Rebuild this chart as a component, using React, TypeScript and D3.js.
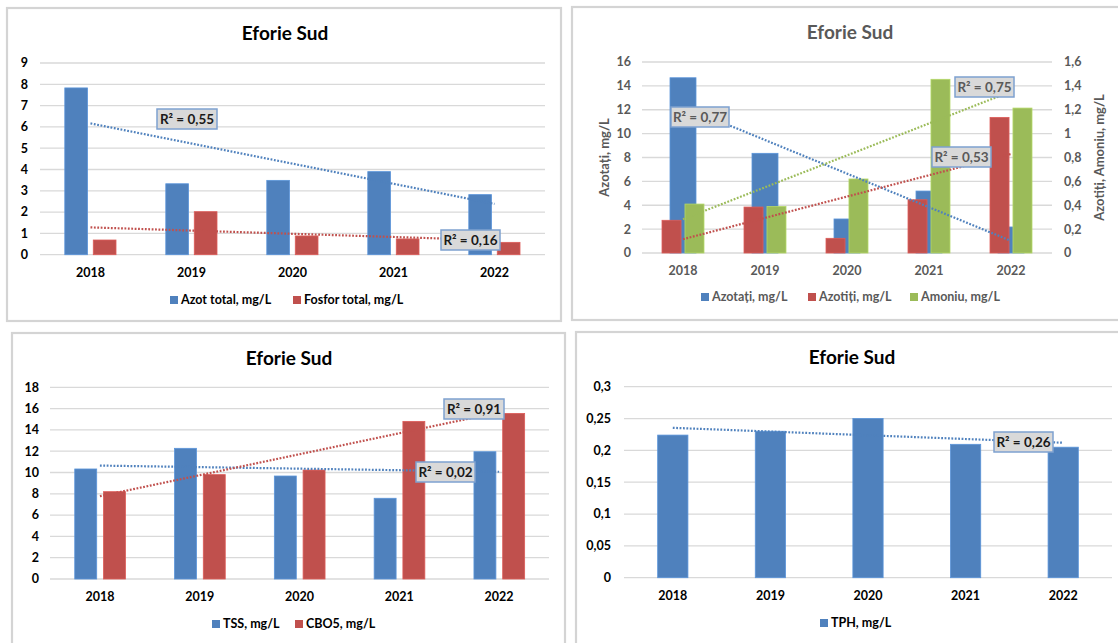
import React from "react";
import * as d3 from "d3";

// data (Eforie Sud, 2018-2022)
const years = ["2018", "2019", "2020", "2021", "2022"];
const azotTotal = [7.83, 3.33, 3.49, 3.9, 2.82];
const fosforTotal = [0.69, 2.02, 0.88, 0.74, 0.58];
const azotati = [14.68, 8.35, 2.85, 5.19, 2.18];
const azotiti = [0.274, 0.385, 0.123, 0.446, 1.136];
const amoniu = [0.41, 0.39, 0.62, 1.455, 1.214];
const tss = [10.33, 12.27, 9.67, 7.58, 11.95];
const cbo5 = [8.2, 9.8, 10.23, 14.8, 15.55];
const tph = [0.224, 0.23, 0.25, 0.2095, 0.205];

const ticks9 = [0, 1, 2, 3, 4, 5, 6, 7, 8, 9];
const ticks16 = [0, 2, 4, 6, 8, 10, 12, 14, 16];
const ticks16r = [0, 0.2, 0.4, 0.6, 0.8, 1, 1.2, 1.4, 1.6];
const ticks18 = [0, 2, 4, 6, 8, 10, 12, 14, 16, 18];
const ticks03 = [0, 0.05, 0.1, 0.15, 0.2, 0.25, 0.3];

const FONT = "Lato, 'Open Sans', sans-serif";
const BLUE = "#4f81bd";
const RED = "#c0504d";
const GREEN = "#9bbb59";
const GRID = "#d9d9d9";

const fmt = (v: number) => String(+v.toFixed(3)).replace(".", ",");

// least squares line over category index 1..n
function linReg(vals: number[]) {
  const xs = vals.map((_, i) => i + 1);
  const mx = d3.mean(xs) as number;
  const my = d3.mean(vals) as number;
  const b = d3.sum(xs, (x, i) => (x - mx) * (vals[i] - my)) / d3.sum(xs, x => (x - mx) ** 2);
  const a = my - b * mx;
  return (x: number) => a + b * x;
}

type Series = {
  name: string;
  values: number[];
  color: string;
  axis: "left" | "right";
  offset: number;
  width: number;
  r2?: { label: string; x: number; y: number; w: number };
  legendX: number;
};

type PanelCfg = {
  frame: [number, number, number, number];
  x0: number; x1: number; yTop: number; yBot: number;
  leftDomain: [number, number]; leftTicks: number[]; leftLabelX: number;
  rightDomain?: [number, number]; rightTicks?: number[]; rightLabelX?: number;
  title: [number, number]; textColor: string;
  leftTitle?: [string, number]; rightTitle?: [string, number];
  series: Series[];
  legendY: number;
};

function Panel({ cfg }: { cfg: PanelCfg }) {
  const x = d3.scaleBand<string>().domain(years).range([cfg.x0, cfg.x1]).padding(0);
  const bw = x.bandwidth();
  const yl = d3.scaleLinear().domain(cfg.leftDomain).range([cfg.yBot, cfg.yTop]);
  const yr = cfg.rightDomain ? d3.scaleLinear().domain(cfg.rightDomain).range([cfg.yBot, cfg.yTop]) : yl;
  const cx = (i: number) => (x(years[i]) as number) + bw / 2;
  const tc = cfg.textColor;
  const [fx, fy, fw, fh] = cfg.frame;
  const midY = (cfg.yTop + cfg.yBot) / 2;

  return (
    <g fontFamily={FONT} fontWeight="bold">
      <rect x={fx} y={fy} width={fw} height={fh} fill="#fff" stroke="#d4d4d4" strokeWidth={2.2} />
      <text x={cfg.title[0]} y={cfg.title[1]} textAnchor="middle" fontSize={19} fill={tc}>Eforie Sud</text>
      {cfg.leftTicks.map(t => (
        <g key={"l" + t}>
          <line x1={cfg.x0} x2={cfg.x1} y1={yl(t)} y2={yl(t)} stroke={GRID} strokeWidth={1.3} />
          <text x={cfg.leftLabelX} y={yl(t)} dy="0.35em" textAnchor="end" fontSize={12.5} fill={tc}>{fmt(t)}</text>
        </g>
      ))}
      {cfg.rightTicks && cfg.rightTicks.map(t => (
        <text key={"r" + t} x={cfg.rightLabelX} y={yr(t)} dy="0.35em" fontSize={12.5} fill={tc}>{fmt(t)}</text>
      ))}
      {cfg.leftTitle && (
        <text transform={`translate(${cfg.leftTitle[1]},${midY}) rotate(-90)`} textAnchor="middle" fontSize={13} fill={tc}>{cfg.leftTitle[0]}</text>
      )}
      {cfg.rightTitle && (
        <text transform={`translate(${cfg.rightTitle[1]},${midY}) rotate(-90)`} textAnchor="middle" fontSize={13} fill={tc}>{cfg.rightTitle[0]}</text>
      )}
      {years.map((yr_, i) => (
        <text key={yr_} x={cx(i)} y={cfg.yBot + 18} dy="0.35em" textAnchor="middle" fontSize={12.5} fill={tc}>{yr_}</text>
      ))}
      {cfg.series.map(s => {
        const y = s.axis === "left" ? yl : yr;
        return (
          <g key={s.name}>
            {s.values.map((v, i) => (
              <rect key={i} x={cx(i) + s.offset * bw - (s.width * bw) / 2} y={y(v)} width={s.width * bw}
                height={y(0) - y(v)} fill={s.color} stroke={d3.color(s.color)!.brighter(0.4).toString()} strokeWidth={0.8} />
            ))}
          </g>
        );
      })}
      {cfg.series.map(s => {
        const y = s.axis === "left" ? yl : yr;
        const f = linReg(s.values);
        return (
          <line key={"t" + s.name} x1={cx(0)} x2={cx(4)} y1={y(f(1))} y2={y(f(5))}
            stroke={s.color} strokeWidth={2.2} strokeDasharray="1.8 1.6" />
        );
      })}
      {cfg.series.filter(s => s.r2).map(s => (
        <g key={"b" + s.name}>
          <rect x={s.r2!.x} y={s.r2!.y} width={s.r2!.w} height={20} fill="#d9d9d9" stroke="#7ea1d0" strokeWidth={1.5} />
          <text x={s.r2!.x + s.r2!.w / 2} y={s.r2!.y + 10} dy="0.36em" textAnchor="middle" fontSize={13.5} fill={tc === "#000" ? "#1a1a1a" : tc}>
            {"R² = " + s.r2!.label}
          </text>
        </g>
      ))}
      {cfg.series.map(s => (
        <g key={"lg" + s.name} transform={`translate(${s.legendX},${cfg.legendY})`}>
          <rect x={0} y={-4} width={8} height={8} fill={s.color} />
          <text x={11} y={0} dy="0.35em" fontSize={12.5} fill={tc}>{s.name}</text>
        </g>
      ))}
    </g>
  );
}

const panels: PanelCfg[] = [
  {
    frame: [7, 8, 554, 313], x0: 40, x1: 545, yTop: 63, yBot: 254.7,
    leftDomain: [0, 9], leftTicks: ticks9, leftLabelX: 28,
    title: [285, 40], textColor: "#000",
    series: [
      { name: "Azot total, mg/L", values: azotTotal, color: BLUE, axis: "left", offset: -0.142, width: 0.225, r2: { label: "0,55", x: 157, y: 109, w: 60 }, legendX: 170 },
      { name: "Fosfor total, mg/L", values: fosforTotal, color: RED, axis: "left", offset: 0.14, width: 0.225, r2: { label: "0,16", x: 441, y: 230, w: 59 }, legendX: 293 },
    ],
    legendY: 300,
  },
  {
    frame: [572, 7, 560, 313], x0: 642, x1: 1052, yTop: 62, yBot: 253,
    leftDomain: [0, 16], leftTicks: ticks16, leftLabelX: 631,
    rightDomain: [0, 1.6], rightTicks: ticks16r, rightLabelX: 1064,
    title: [850, 39], textColor: "#595959",
    leftTitle: ["Azotați, mg/L", 609], rightTitle: ["Azotiți, Amoniu, mg/L", 1104],
    series: [
      { name: "Azotați, mg/L", values: azotati, color: BLUE, axis: "left", offset: 0, width: 0.317, r2: { label: "0,77", x: 671, y: 107, w: 58 }, legendX: 701 },
      { name: "Azotiți, mg/L", values: azotiti, color: RED, axis: "right", offset: -0.14, width: 0.232, r2: { label: "0,53", x: 932, y: 147, w: 59 }, legendX: 808 },
      { name: "Amoniu, mg/L", values: amoniu, color: GREEN, axis: "right", offset: 0.14, width: 0.232, r2: { label: "0,75", x: 955, y: 77, w: 59 }, legendX: 910 },
    ],
    legendY: 297,
  },
  {
    frame: [12, 333, 553, 320], x0: 50, x1: 549, yTop: 387.3, yBot: 579,
    leftDomain: [0, 18], leftTicks: ticks18, leftLabelX: 39,
    title: [289, 365], textColor: "#000",
    series: [
      { name: "TSS, mg/L", values: tss, color: BLUE, axis: "left", offset: -0.142, width: 0.22, r2: { label: "0,02", x: 416, y: 462, w: 59 }, legendX: 212 },
      { name: "CBO5, mg/L", values: cbo5, color: RED, axis: "left", offset: 0.146, width: 0.22, r2: { label: "0,91", x: 444, y: 399, w: 60 }, legendX: 295 },
    ],
    legendY: 624,
  },
  {
    frame: [576, 332, 560, 320], x0: 624, x1: 1112, yTop: 386.7, yBot: 577.7,
    leftDomain: [0, 0.3], leftTicks: ticks03, leftLabelX: 611,
    title: [852, 364], textColor: "#000",
    series: [
      { name: "TPH, mg/L", values: tph, color: BLUE, axis: "left", offset: 0, width: 0.31, r2: { label: "0,26", x: 994, y: 432, w: 59 }, legendX: 820 },
    ],
    legendY: 623,
  },
];

export default function App() {
  return (
    <svg width={1118} height={643} style={{ position: "absolute", left: 0, top: 0, background: "#fff" }}>
      <rect width={1118} height={643} fill="#fff" />
      {panels.map((p, i) => <Panel key={i} cfg={p} />)}
    </svg>
  );
}
